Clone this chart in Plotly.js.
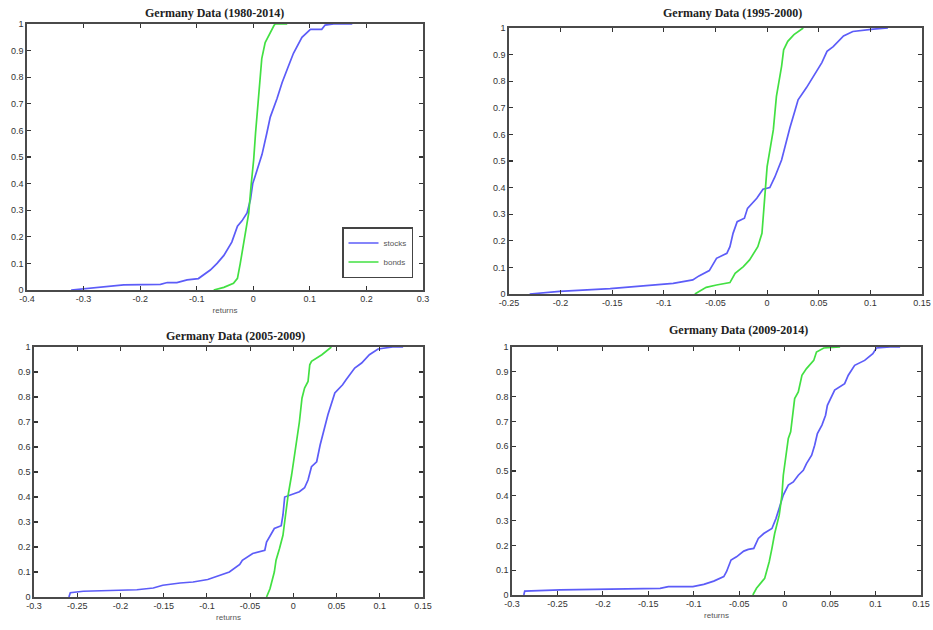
<!DOCTYPE html>
<html>
<head>
<meta charset="utf-8">
<script src="https://cdn.plot.ly/plotly-3.0.1.min.js"></script>
<style>html,body{margin:0;padding:0;background:#fff;}#chart{width:933px;height:630px;}</style>
</head>
<body>
<div id="chart"></div>
<script>
// ---- Data (cumulative distribution of returns) ----
const titles = ["Germany Data (1980-2014)", "Germany Data (1995-2000)", "Germany Data (2005-2009)", "Germany Data (2009-2014)"];
const seriesNames = ["stocks", "bonds"];

const p1StocksX = [-0.322,-0.288,-0.247,-0.229,-0.164,-0.152,-0.135,-0.117,-0.097,-0.088,-0.076,-0.064,-0.052,-0.038,-0.028,-0.020,-0.011,-0.005,-0.001,0.0066,0.0155,0.024,0.030,0.042,0.051,0.060,0.071,0.086,0.101,0.121,0.127,0.142,0.175];
const p1StocksY = [0,0.006,0.015,0.019,0.021,0.028,0.028,0.038,0.043,0.056,0.075,0.10,0.13,0.18,0.24,0.26,0.29,0.34,0.40,0.45,0.51,0.59,0.65,0.72,0.78,0.83,0.89,0.95,0.98,0.98,0.996,1,1];
const p1BondsX = [-0.070,-0.052,-0.035,-0.028,-0.023,-0.017,-0.008,-0.004,0.0007,0.004,0.008,0.011,0.015,0.021,0.030,0.037,0.039,0.060];
const p1BondsY = [0,0.01,0.025,0.044,0.10,0.175,0.29,0.39,0.49,0.59,0.69,0.78,0.87,0.93,0.97,0.996,1,1];

const p2StocksX = [-0.230,-0.201,-0.152,-0.117,-0.091,-0.072,-0.066,-0.056,-0.052,-0.049,-0.039,-0.036,-0.033,-0.029,-0.022,-0.019,-0.010,-0.004,0.0026,0.0075,0.014,0.019,0.022,0.027,0.030,0.038,0.045,0.053,0.058,0.064,0.074,0.083,0.103,0.117];
const p2StocksY = [0,0.01,0.02,0.03,0.04,0.053,0.068,0.088,0.115,0.134,0.153,0.178,0.228,0.272,0.285,0.322,0.36,0.394,0.40,0.44,0.504,0.58,0.624,0.69,0.73,0.775,0.82,0.87,0.912,0.93,0.97,0.987,0.996,1];
const p2BondsX = [-0.070,-0.059,-0.049,-0.036,-0.031,-0.023,-0.017,-0.009,-0.005,-0.004,-0.002,0.000,0.003,0.006,0.009,0.014,0.016,0.020,0.026,0.033,0.035];
const p2BondsY = [0,0.025,0.034,0.043,0.078,0.103,0.128,0.178,0.228,0.29,0.379,0.479,0.555,0.617,0.743,0.856,0.918,0.95,0.975,0.994,1];

const p3StocksX = [-0.2596,-0.258,-0.243,-0.212,-0.181,-0.162,-0.151,-0.131,-0.116,-0.099,-0.085,-0.074,-0.062,-0.059,-0.047,-0.033,-0.031,-0.026,-0.022,-0.014,-0.012,-0.010,-0.004,0.007,0.013,0.017,0.021,0.027,0.031,0.036,0.040,0.048,0.057,0.061,0.071,0.079,0.088,0.098,0.115,0.127];
const p3StocksY = [0,0.017,0.023,0.027,0.029,0.036,0.047,0.056,0.06,0.07,0.087,0.10,0.13,0.147,0.174,0.187,0.22,0.247,0.274,0.285,0.328,0.40,0.408,0.421,0.437,0.468,0.521,0.541,0.608,0.675,0.729,0.816,0.849,0.869,0.916,0.936,0.969,0.992,1,1];
const p3BondsX = [-0.031,-0.027,-0.022,-0.020,-0.016,-0.012,-0.009,-0.006,-0.002,0.0004,0.0035,0.007,0.010,0.013,0.017,0.019,0.021,0.033,0.044];
const p3BondsY = [0,0.033,0.10,0.147,0.194,0.247,0.328,0.408,0.488,0.541,0.622,0.70,0.795,0.836,0.862,0.929,0.943,0.969,1];

const p4StocksX = [-0.287,-0.286,-0.247,-0.192,-0.190,-0.137,-0.128,-0.101,-0.089,-0.078,-0.067,-0.064,-0.059,-0.053,-0.045,-0.040,-0.034,-0.029,-0.023,-0.014,-0.0095,-0.005,-0.0015,0.004,0.0095,0.015,0.0205,0.024,0.0297,0.033,0.036,0.041,0.045,0.047,0.052,0.055,0.066,0.070,0.077,0.088,0.097,0.101,0.116,0.127];
const p4StocksY = [0,0.016,0.021,0.024,0.027,0.027,0.034,0.034,0.043,0.056,0.074,0.094,0.141,0.154,0.177,0.184,0.188,0.228,0.248,0.268,0.309,0.362,0.403,0.443,0.456,0.483,0.503,0.53,0.564,0.604,0.651,0.685,0.725,0.765,0.805,0.826,0.852,0.886,0.926,0.946,0.973,0.996,1,1];
const p4BondsX = [-0.035,-0.031,-0.025,-0.022,-0.020,-0.017,-0.014,-0.011,-0.006,-0.003,-0.0015,0.0015,0.004,0.0066,0.0095,0.011,0.015,0.019,0.024,0.032,0.035,0.043,0.061];
const p4BondsY = [0,0.027,0.054,0.067,0.094,0.134,0.188,0.248,0.322,0.403,0.483,0.564,0.631,0.658,0.752,0.792,0.819,0.886,0.913,0.946,0.98,0.996,1];

// tick labels
const yTickVals = [0,0.1,0.2,0.3,0.4,0.5,0.6,0.7,0.8,0.9,1];
const yTickText = ["0","0.1","0.2","0.3","0.4","0.5","0.6","0.7","0.8","0.9","1"];
const x1TickVals = [-0.4,-0.3,-0.2,-0.1,0,0.1,0.2,0.3];
const x1TickText = ["-0.4","-0.3","-0.2","-0.1","0","0.1","0.2","0.3"];
const x2TickVals = [-0.25,-0.2,-0.15,-0.1,-0.05,0,0.05,0.1,0.15];
const x2TickText = ["-0.25","-0.2","-0.15","-0.1","-0.05","0","0.05","0.1","0.15"];
const x34TickVals = [-0.3,-0.25,-0.2,-0.15,-0.1,-0.05,0,0.05,0.1,0.15];
const x34TickText = ["-0.3","-0.25","-0.2","-0.15","-0.1","-0.05","0","0.05","0.1","0.15"];
const xAxisTitle = "returns";

// ---- Styling ----
const W = 933, H = 630;
const blue = "#5c5cf8", green = "#42e042";
const boxes = [
  {l:27,  r:423, t:24,  b:290, xr:[-0.4,0.3],  tv:x1TickVals,  tt:x1TickText,  xt:true,  tx:214, ty:13},
  {l:509, r:922, t:28,  b:294, xr:[-0.25,0.15],tv:x2TickVals,  tt:x2TickText,  xt:false, tx:732, ty:13},
  {l:34,  r:423, t:347, b:597, xr:[-0.3,0.15], tv:x34TickVals, tt:x34TickText, xt:true,  tx:235, ty:336},
  {l:512, r:921, t:347, b:595, xr:[-0.3,0.15], tv:x34TickVals, tt:x34TickText, xt:true,  tx:738, ty:330}
];
const data = [
  [p1StocksX,p1StocksY,p1BondsX,p1BondsY],
  [p2StocksX,p2StocksY,p2BondsX,p2BondsY],
  [p3StocksX,p3StocksY,p3BondsX,p3BondsY],
  [p4StocksX,p4StocksY,p4BondsX,p4BondsY]
];

const traces = [];
const layout = {
  width: W, height: H,
  margin: {l:0, r:0, t:0, b:0},
  paper_bgcolor: "#fff", plot_bgcolor: "#fff",
  showlegend: true,
  font: {family: "Liberation Sans, Arial, sans-serif", size: 9, color: "#333"},
  legend: {
    x: 413/W, y: 1 - 227/H, xanchor: "right", yanchor: "top",
    bgcolor: "#fff", bordercolor: "#444", borderwidth: 1.5,
    font: {size: 8, color: "#555"}, tracegroupgap: 0, itemwidth: 30
  },
  annotations: []
};

boxes.forEach((bx, i) => {
  const n = i === 0 ? "" : String(i + 1);
  const xa = "x" + n, ya = "y" + n;
  const d = data[i];
  traces.push({x: d[0], y: d[1], xaxis: xa, yaxis: ya, type: "scatter", mode: "lines",
    name: seriesNames[0], line: {color: blue, width: 1.7}, showlegend: i === 0, hoverinfo: "skip"});
  traces.push({x: d[2], y: d[3], xaxis: xa, yaxis: ya, type: "scatter", mode: "lines",
    name: seriesNames[1], line: {color: green, width: 1.7}, showlegend: i === 0, hoverinfo: "skip"});
  const axCommon = {
    showline: true, mirror: "ticks", linecolor: "#4a4a4a", linewidth: 1.6,
    ticks: "inside", ticklen: 4, tickwidth: 1.2, tickcolor: "#333",
    showgrid: false, zeroline: false, fixedrange: true,
    tickfont: {size: 9, color: "#333"}
  };
  layout["xaxis" + n] = Object.assign({}, axCommon, {
    domain: [bx.l / W, bx.r / W], range: bx.xr, anchor: ya,
    tickmode: "array", tickvals: bx.tv, ticktext: bx.tt,
    title: bx.xt ? {text: xAxisTitle, font: {size: 8, color: "#555"}, standoff: 4} : {text: ""}
  });
  layout["yaxis" + n] = Object.assign({}, axCommon, {
    domain: [1 - bx.b / H, 1 - bx.t / H], range: [0, 1], anchor: xa,
    tickmode: "array", tickvals: yTickVals, ticktext: yTickText
  });
  layout.annotations.push({
    text: "<b>" + titles[i] + "</b>", xref: "paper", yref: "paper",
    x: bx.tx / W, y: 1 - bx.ty / H, xanchor: "center", yanchor: "middle",
    showarrow: false, font: {family: "Liberation Serif, Times New Roman, serif", size: 12, color: "#222"}
  });
});

Plotly.newPlot("chart", traces, layout, {staticPlot: true, displayModeBar: false});
</script>
</body>
</html>
